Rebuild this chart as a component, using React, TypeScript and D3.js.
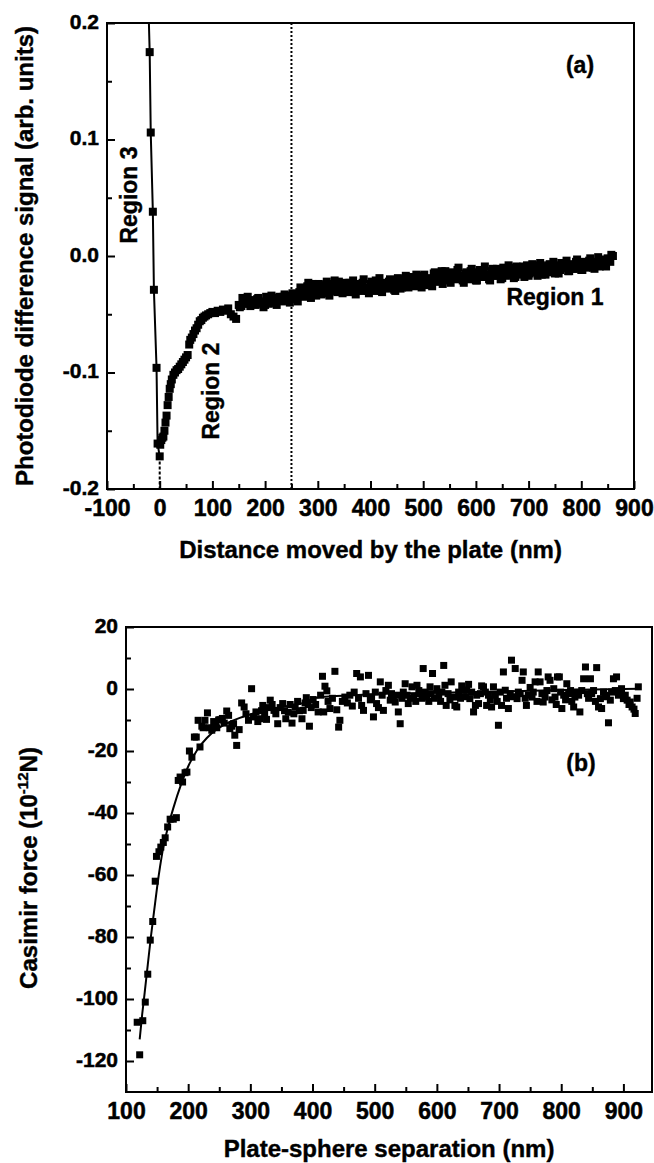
import React, { useEffect, useRef } from 'react'
import * as d3 from 'd3'

// ---- panel (a): photodiode difference signal vs distance moved ----
const aDistTicks = [-100, 0, 100, 200, 300, 400, 500, 600, 700, 800, 900]
const aDistMinor = [-50, 50, 150, 250, 350, 450, 550, 650, 750, 850]
const aSignalTicks = [-0.2, -0.1, 0.0, 0.1, 0.2]
const aSignalMinor = [-0.15, -0.05, 0.05, 0.15]

// region 3 (contact) points and the line through them
const region3Dist = [-19, -17, -13, -11, -6, -4, 0]
const region3Signal = [0.175, 0.106, 0.038, -0.029, -0.096, -0.161, -0.172]
const region3LineDist = [-20.5, -19, -17, -13, -11, -6, -4, 0]
const region3LineSignal = [0.2, 0.175, 0.106, 0.038, -0.029, -0.096, -0.161, -0.172]

const region2Dist = [1, 3, 5, 7, 9, 11, 13, 15, 17, 19, 21, 23, 26, 29, 32, 35, 38, 41, 44, 47,
  50, 53, 56, 58, 61, 64, 67, 70, 73, 76, 79, 82, 85, 88, 92, 96, 100]
const region2Signal = [-0.162, -0.158, -0.156, -0.155, -0.150, -0.143, -0.137, -0.128, -0.121, -0.114,
  -0.110, -0.106, -0.102, -0.100, -0.098, -0.097, -0.095, -0.093, -0.091, -0.089,
  -0.087, -0.085, -0.076, -0.072, -0.070, -0.067, -0.064, -0.062, -0.059, -0.056,
  -0.055, -0.053, -0.052, -0.051, -0.050, -0.049, -0.048]

const region1Dist = [105, 110, 115, 120, 125, 130, 135, 140, 145, 150,
  155, 160, 165, 170, 175, 180, 185, 190, 195, 200,
  205, 210, 215, 220, 225, 230, 235, 240, 245, 250,
  255, 260, 265, 270, 275, 280, 285, 290, 295, 300,
  305, 310, 315, 320, 325, 330, 335, 340, 345, 350,
  355, 360, 365, 370, 375, 380, 385, 390, 395, 400,
  405, 410, 415, 420, 425, 430, 435, 440, 445, 450,
  455, 460, 465, 470, 475, 480, 485, 490, 495, 500,
  505, 510, 515, 520, 525, 530, 535, 540, 545, 550,
  555, 560, 565, 570, 575, 580, 585, 590, 595, 600,
  605, 610, 615, 620, 625, 630, 635, 640, 645, 650,
  655, 660, 665, 670, 675, 680, 685, 690, 695, 700,
  705, 710, 715, 720, 725, 730, 735, 740, 745, 750,
  755, 760, 765, 770, 775, 780, 785, 790, 795, 800,
  805, 810, 815, 820, 825, 830, 835, 840, 845, 850,
  855, 860]
const region1Signal = [-0.049, -0.047, -0.048, -0.046, -0.047, -0.045, -0.050, -0.052, -0.054, -0.042,
  -0.043, -0.039, -0.036, -0.041, -0.038, -0.040, -0.037, -0.041, -0.039, -0.042,
  -0.038, -0.040, -0.037, -0.039, -0.036, -0.038, -0.035, -0.037, -0.034, -0.036,
  -0.033, -0.037, -0.031, -0.028, -0.034, -0.026, -0.030, -0.024, -0.033, -0.027,
  -0.031, -0.025, -0.029, -0.032, -0.026, -0.024, -0.030, -0.022, -0.027, -0.025,
  -0.029, -0.023, -0.027, -0.031, -0.025, -0.029, -0.023, -0.027, -0.030, -0.024,
  -0.028, -0.021, -0.026, -0.030, -0.023, -0.027, -0.022, -0.025, -0.029, -0.021,
  -0.024, -0.027, -0.020, -0.024, -0.018, -0.022, -0.026, -0.019, -0.023, -0.017,
  -0.021, -0.025, -0.019, -0.015, -0.022, -0.018, -0.013, -0.020, -0.016, -0.021,
  -0.014, -0.018, -0.012, -0.017, -0.021, -0.015, -0.019, -0.013, -0.017, -0.021,
  -0.014, -0.018, -0.012, -0.016, -0.020, -0.013, -0.017, -0.011, -0.015, -0.019,
  -0.012, -0.016, -0.010, -0.014, -0.018, -0.011, -0.015, -0.009, -0.013, -0.017,
  -0.010, -0.014, -0.008, -0.012, -0.016, -0.009, -0.013, -0.007, -0.011, -0.015,
  -0.008, -0.012, -0.006, -0.010, -0.013, -0.007, -0.011, -0.005, -0.009, -0.012,
  -0.006, -0.010, -0.004, -0.008, -0.011, -0.005, -0.009, -0.003, -0.007, -0.002,
  -0.005, 0.000]

// second interleaved scan of region 1
const region1bDist = [152, 157, 162, 167, 172, 177, 182, 187, 192, 197,
  202, 207, 212, 217, 222, 227, 232, 237, 242, 247,
  252, 257, 262, 267, 272, 277, 282, 287, 292, 297,
  302, 307, 312, 317, 322, 327, 332, 337, 342, 347,
  352, 357, 362, 367, 372, 377, 382, 387, 392, 397,
  402, 407, 412, 417, 422, 427, 432, 437, 442, 447,
  452, 457, 462, 467, 472, 477, 482, 487, 492, 497,
  502, 507, 512, 517, 522, 527, 532, 537, 542, 547,
  552, 557, 562, 567, 572, 577, 582, 587, 592, 597,
  602, 607, 612, 617, 622, 627, 632, 637, 642, 647,
  652, 657, 662, 667, 672, 677, 682, 687, 692, 697,
  702, 707, 712, 717, 722, 727, 732, 737, 742, 747,
  752, 757, 762, 767, 772, 777, 782, 787, 792, 797,
  802, 807, 812, 817, 822, 827, 832, 837, 842, 847,
  852, 857]
const region1bSignal = [-0.044, -0.036, -0.041, -0.035, -0.043, -0.038, -0.042, -0.036, -0.040, -0.044,
  -0.035, -0.041, -0.034, -0.040, -0.042, -0.035, -0.039, -0.033, -0.038, -0.040,
  -0.032, -0.036, -0.039, -0.027, -0.035, -0.031, -0.023, -0.036, -0.029, -0.034,
  -0.024, -0.033, -0.027, -0.022, -0.034, -0.028, -0.021, -0.031, -0.025, -0.032,
  -0.023, -0.031, -0.026, -0.021, -0.033, -0.024, -0.030, -0.020, -0.028, -0.032,
  -0.022, -0.030, -0.025, -0.019, -0.031, -0.024, -0.028, -0.020, -0.026, -0.030,
  -0.019, -0.028, -0.023, -0.017, -0.027, -0.021, -0.025, -0.016, -0.024, -0.027,
  -0.016, -0.024, -0.020, -0.026, -0.014, -0.022, -0.018, -0.024, -0.013, -0.019,
  -0.023, -0.015, -0.020, -0.010, -0.019, -0.023, -0.014, -0.020, -0.011, -0.016,
  -0.021, -0.012, -0.018, -0.009, -0.016, -0.021, -0.011, -0.017, -0.013, -0.020,
  -0.010, -0.017, -0.008, -0.014, -0.019, -0.009, -0.016, -0.012, -0.018, -0.008,
  -0.015, -0.007, -0.013, -0.017, -0.006, -0.012, -0.016, -0.008, -0.014, -0.005,
  -0.012, -0.015, -0.006, -0.010, -0.004, -0.013, -0.008, -0.011, -0.003, -0.009,
  -0.012, -0.005, -0.009, -0.002, -0.010, -0.006, -0.001, -0.008, -0.004, -0.009,
  -0.003, 0.001]

const boundaryDist = 250

// ---- panel (b): Casimir force vs plate-sphere separation ----
const bSepTicks = [100, 200, 300, 400, 500, 600, 700, 800, 900]
const bSepMinor = [150, 250, 350, 450, 550, 650, 750, 850]
const bForceTicks = [20, 0, -20, -40, -60, -80, -100, -120]
const bForceMinor = [10, -10, -30, -50, -70, -90, -110]

const forcePoints: [number, number][] = [
  [118, -107.5], [122, -118], [127, -107], [131, -101], [135, -92], [139, -81], [143, -75], [147, -62],
  [149, -54], [153, -52.5], [156, -51], [160, -49.5], [163, -48], [167, -44.5], [171, -42], [176, -42],
  [181, -41.5], [184, -29.5], [187, -28.4], [191, -30], [195, -27], [198, -26.8], [202, -20], [206, -22],
  [210, -15.5], [213, -15.5], [216, -10.1], [219, -18.7], [222, -12], [224, -12.5], [227, -10.1], [231, -7.7],
  [234, -12.5], [238, -13.3], [241, -10.5], [244, -11.5], [246, -12.5], [249, -10], [251, -9.9], [255, -9.5],
  [258, -11], [262, -7.1], [265, -8.5], [267, -12.8], [270, -12], [273, -11.2], [275, -14.9], [278, -18.2],
  [282, -13.1], [286, -4.5], [290, -5.8], [293, -8], [297, -10.1], [302, 0.1], [305, -9], [309, -7.4],
  [312, -10.5], [315, -9.6], [318, -7], [320, -5.3], [323, -8], [326, -9.8], [329, -6], [332, -3.6],
  [335, -5], [338, -6.9], [341, -8], [344, -11.2], [348, -6], [352, -4.7], [355, -7], [357, -9.6],
  [361, -7.5], [364, -5], [367, -11], [370, -8], [372, -5.8], [376, -4], [379, -7], [383, -9.6],
  [385, -6.9], [388, -4.5], [390, -2.8], [393, -5], [395, -12], [398, -6], [401, -3.4], [405, -5],
  [409, -7.4], [413, -2], [416, 4.1], [418, -7.4], [420, 0.9], [423, -0.6], [425, -4], [428, -6.3],
  [432, -3], [436, 5.7], [439, -6.7], [442, -12.3], [444, -10.1], [448, -4], [452, -2.6], [456, -4.5],
  [460, -2], [464, -5.5], [467, -1], [471, 5], [474, -3], [477, 3.9], [479, -5.3], [482, -6.9],
  [486, -1.5], [490, 4.4], [493, -3.5], [495, -2.6], [498, -9], [501, -1], [503, -4.7], [506, -6],
  [509, 2.3], [512, -2], [514, -6.9], [518, -0.5], [522, 1.2], [525, -3.6], [527, -1.5], [530, -3],
  [533, -4.2], [536, -2], [538, -7.4], [541, -11.2], [544, -3], [546, -1], [549, 1.7], [552, -2],
  [554, -4.7], [557, -3], [560, 0.7], [563, -2.5], [566, -4], [568, 1.2], [571, -0.5], [573, -1.5],
  [576, -3], [578, 6.6], [581, -1], [584, -2.6], [587, -4], [589, 0.7], [591, -1.5], [593, 5],
  [596, -3], [600, 0.1], [603, -2], [606, -4], [608, -1], [611, 7.6], [613, 1.2], [615, -5.3],
  [618, -1.5], [621, -3.5], [623, 2.3], [627, -2.6], [629, -5.3], [632, -5.8], [635, -1], [638, -3],
  [640, 1], [643, -0.4], [646, -2.5], [648, -0.4], [651, 1.5], [653, -3.1], [656, -1], [659, -7.4],
  [662, -5.3], [664, -2], [667, -4.7], [670, -1.5], [672, 1], [675, 0.7], [678, -1], [680, -5.3],
  [683, -2], [686, -3.5], [688, -5.8], [691, 0.7], [694, -2], [697, -4], [699, -11.7], [702, -1],
  [704, -5.3], [707, 5.5], [710, -0.4], [712, -3], [715, -6.3], [718, -1.5], [720, 9.3], [723, -2.5],
  [726, 6.6], [729, -3.1], [731, -1], [734, -1.5], [737, 2.8], [739, 5.5], [742, -3], [744, -5.3],
  [747, -2], [750, 0.5], [753, -2.6], [755, -1], [758, 2.3], [761, -4], [763, 5.5], [766, 2.3],
  [769, -1.5], [771, -4.2], [774, -2.6], [777, -0.5], [779, 3.9], [782, 2.8], [785, -3.5], [788, 0.1],
  [790, -2.6], [792, -5], [794, 3.9], [797, 3.9], [799, -1], [801, -6.3], [804, -2], [807, -3.5],
  [809, 1.7], [812, -1.5], [815, -0.5], [817, -4], [820, -5.8], [822, -2.6], [825, -1], [828, -2],
  [830, -7.4], [833, -0.5], [836, 3.3], [839, 7.1], [842, -1.5], [844, -3], [847, 3.3], [849, -1.5],
  [852, -0.5], [855, -4], [857, 6.9], [860, -5.8], [863, -3.1], [865, -6.3], [868, -1], [871, -2.5],
  [873, -2], [876, -10.9], [879, -3.6], [881, -1], [884, 3.3], [887, -0.5], [889, 3.9], [892, -2],
  [895, -1], [897, 0.1], [900, -3.1], [903, -2], [906, -3.6], [909, -5], [911, -4.2], [914, -5.8],
  [917, -6.5], [919, -7.9], [922, -3], [924, 0.7],
]

// theoretical curve
const fitSep = [122, 126, 130, 135, 140, 145, 150, 155, 160, 167, 176, 189, 200, 215, 230, 246, 265,
  283, 305, 326, 350, 380, 412, 466, 519, 600, 680, 800, 925]
const fitForce = [-113, -105, -98, -89, -80, -72, -64, -57, -51, -45, -38.5, -30.5, -25, -19.5, -15.8,
  -13, -10.8, -9.3, -7.9, -6.8, -5.8, -4.8, -2.6, -2.0, -1.5, -1.2, -0.9, -0.3, 0.1]

const FONT = '"Liberation Sans", Arial, Helvetica, sans-serif'

type Box = { left: number, right: number, top: number, bottom: number }

const drawFrame = (g: any, x: any, y: any, box: Box, opts: any) => {
  const xMajor = d3.axisBottom(x).tickValues(opts.xTicks).tickSize(-8).tickPadding(11)
    .tickFormat(opts.xFmt)
  const xMinor = d3.axisBottom(x).tickValues(opts.xMinor).tickSize(-5).tickFormat(() => '')
  const yMajor = d3.axisLeft(y).tickValues(opts.yTicks).tickSize(-8).tickPadding(8)
    .tickFormat(opts.yFmt)
  const yMinor = d3.axisLeft(y).tickValues(opts.yMinor).tickSize(-5).tickFormat(() => '')

  const axes = [
    [xMajor, `translate(0,${box.bottom})`, 23, null],
    [xMinor, `translate(0,${box.bottom})`, 23, null],
    [yMajor, `translate(${box.left},0)`, 21, '0.26em'],
    [yMinor, `translate(${box.left},0)`, 21, null],
  ]
  axes.forEach(([ax, tr, fs, dy]: any) => {
    const a = g.append('g').attr('transform', tr).call(ax)
    a.select('.domain').remove()
    a.selectAll('line').attr('stroke', '#000').attr('stroke-width', 2)
    a.attr('font-family', FONT).attr('font-size', fs).attr('font-weight', 'bold')
    a.selectAll('text').attr('fill', '#000').attr('stroke', '#000').attr('stroke-width', 0.5)
    if (dy) a.selectAll('text').attr('dy', dy)
  })

  g.append('rect')
    .attr('x', box.left).attr('y', box.top)
    .attr('width', box.right - box.left).attr('height', box.bottom - box.top)
    .attr('fill', 'none').attr('stroke', '#000').attr('stroke-width', 2)
}

const label = (g: any, text: string, x: number, y: number, size: number, rotate = false) => {
  const t = g.append('text')
    .attr('font-family', FONT).attr('font-size', size).attr('font-weight', 'bold')
    .attr('text-anchor', 'middle').attr('fill', '#000')
    .attr('stroke', '#000').attr('stroke-width', 0.4)
    .text(text)
  if (rotate) t.attr('transform', `translate(${x},${y}) rotate(-90)`)
  else t.attr('x', x).attr('y', y)
  return t
}

const App = () => {
  const svgRef = useRef<SVGSVGElement>(null)

  useEffect(() => {
    const svg = d3.select(svgRef.current)
    svg.selectAll('*').remove()

    // ---------- panel (a) ----------
    const boxA: Box = { left: 107, right: 634, top: 23, bottom: 489 }
    const xA = d3.scaleLinear().domain([-100, 900]).range([boxA.left, boxA.right])
    const yA = d3.scaleLinear().domain([-0.2, 0.2]).range([boxA.bottom, boxA.top])
    const gA = svg.append('g')

    gA.append('clipPath').attr('id', 'clipA').append('rect')
      .attr('x', boxA.left).attr('y', boxA.top)
      .attr('width', boxA.right - boxA.left).attr('height', boxA.bottom - boxA.top)

    const dataA = gA.append('g').attr('clip-path', 'url(#clipA)')

    // region boundary
    dataA.append('line')
      .attr('x1', xA(boundaryDist)).attr('x2', xA(boundaryDist))
      .attr('y1', yA(0.2)).attr('y2', yA(-0.2))
      .attr('stroke', '#000').attr('stroke-width', 2).attr('stroke-dasharray', '2,2')

    // contact point drop
    dataA.append('line')
      .attr('x1', xA(0)).attr('x2', xA(0))
      .attr('y1', yA(region3Signal[region3Signal.length - 1])).attr('y2', yA(-0.2))
      .attr('stroke', '#000').attr('stroke-width', 2).attr('stroke-dasharray', '3,2')

    const lineA = d3.line<number>()
      .x((d, i) => xA(region3LineDist[i]))
      .y(d => yA(d))
    dataA.append('path')
      .datum(region3LineSignal)
      .attr('d', lineA)
      .attr('fill', 'none').attr('stroke', '#000').attr('stroke-width', 2)

    const sqA = 8
    const allA = [
      ...region3Dist.map((d, i) => [d, region3Signal[i]]),
      ...region2Dist.map((d, i) => [d, region2Signal[i]]),
      ...region1Dist.map((d, i) => [d, region1Signal[i]]),
      ...region1bDist.map((d, i) => [d, region1bSignal[i]]),
    ]
    dataA.selectAll('.pt')
      .data(allA)
      .join('rect')
      .attr('class', 'pt')
      .attr('x', d => xA(d[0]) - sqA / 2)
      .attr('y', d => yA(d[1]) - sqA / 2)
      .attr('width', sqA).attr('height', sqA)
      .attr('fill', '#000')

    drawFrame(gA, xA, yA, boxA, {
      xTicks: aDistTicks, xMinor: aDistMinor, xFmt: (d: number) => String(d),
      yTicks: aSignalTicks, yMinor: aSignalMinor, yFmt: (d: number) => d.toFixed(1),
    })

    label(gA, 'Distance moved by the plate (nm)', (boxA.left + boxA.right) / 2, 558, 24)
    label(gA, 'Photodiode difference signal (arb. units)', 33, (boxA.top + boxA.bottom) / 2, 24, true)
    label(gA, 'Region 3', 137, 195, 23, true)
    label(gA, 'Region 2', 219, 391, 23, true)
    label(gA, 'Region 1', 555, 305, 23)
    label(gA, '(a)', 580, 73, 23)

    // ---------- panel (b) ----------
    const boxB: Box = { left: 126, right: 652, top: 627, bottom: 1092 }
    const xB = d3.scaleLinear().domain([100, 946]).range([boxB.left, boxB.right])
    const yB = d3.scaleLinear().domain([-130, 20]).range([boxB.bottom, boxB.top])
    const gB = svg.append('g')

    const fitLine = d3.line<number>()
      .x((d, i) => xB(fitSep[i]))
      .y(d => yB(d))
      .curve(d3.curveMonotoneX)
    gB.append('path')
      .datum(fitForce)
      .attr('d', fitLine)
      .attr('fill', 'none').attr('stroke', '#000').attr('stroke-width', 2)

    const sqB = 7
    gB.selectAll('.pt')
      .data(forcePoints)
      .join('rect')
      .attr('class', 'pt')
      .attr('x', d => xB(d[0]) - sqB / 2)
      .attr('y', d => yB(d[1]) - sqB / 2)
      .attr('width', sqB).attr('height', sqB)
      .attr('fill', '#000')

    drawFrame(gB, xB, yB, boxB, {
      xTicks: bSepTicks, xMinor: bSepMinor, xFmt: (d: number) => String(d),
      yTicks: bForceTicks, yMinor: bForceMinor, yFmt: (d: number) => String(d),
    })

    label(gB, 'Plate-sphere separation (nm)', (boxB.left + boxB.right) / 2, 1157, 24)
    const yt = label(gB, '', 37, 868, 24, true)
    yt.append('tspan').text('Casimir force (10')
    yt.append('tspan').text('-12').attr('font-size', 15).attr('dy', -9)
    yt.append('tspan').text('N)').attr('dy', 9)
    label(gB, '(b)', 581, 771, 23)
  }, [])

  return (
    <svg
      ref={svgRef}
      width={654}
      height={1163}
      style={{ position: 'absolute', left: 0, top: 0, background: '#fff' }}
    />
  )
}

export default App
